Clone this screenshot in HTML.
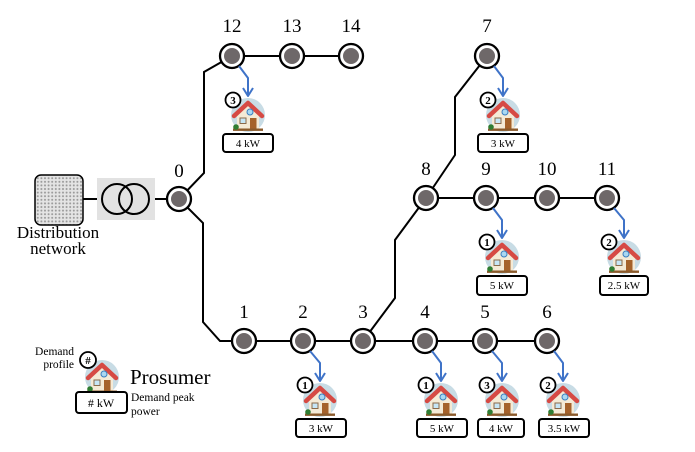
<!DOCTYPE html>
<html><head><meta charset="utf-8"><style>
html,body{margin:0;padding:0;background:#fff;}
svg{display:block;font-family:"Liberation Serif","DejaVu Serif",serif;}
</style></head><body>
<svg width="695" height="452" viewBox="0 0 695 452" xmlns="http://www.w3.org/2000/svg">
<defs>
<pattern id="dots" width="3.6" height="3.6" patternUnits="userSpaceOnUse">
<rect width="3.6" height="3.6" fill="#e4e4e4"/>
<circle cx="1.8" cy="1.8" r="1" fill="#9a9a9a"/>
</pattern>
<g id="house">
<circle cx="0" cy="0" r="17" fill="#c8dce5"/>
<polygon points="-11,-1 0,-11 11,-1 11,14 -11,14" fill="#f4ead6"/>
<polyline points="-14,1 0,-12 14,1" fill="none" stroke="#d64a44" stroke-width="4.5" stroke-linecap="round" stroke-linejoin="round"/>
<circle cx="2" cy="-3" r="3" fill="#a9d8f2" stroke="#3b7fc0" stroke-width="1"/>
<rect x="-8" y="3" width="6" height="5.5" fill="#c6e6f6" stroke="#8a6a4a" stroke-width="1"/>
<rect x="2" y="3" width="6.5" height="11" fill="#a5622b"/>
<rect x="-15" y="13.5" width="30" height="2.4" fill="#8a5a2b"/>
<circle cx="-12" cy="12" r="2.8" fill="#2f7d32"/>
</g>
<g id="node">
<circle cx="0" cy="0" r="12" fill="#fff" stroke="#000" stroke-width="2.3"/>
<circle cx="0" cy="0" r="8" fill="#6e6869"/>
</g>
</defs>

<!-- black network lines -->
<g fill="none" stroke="#000" stroke-width="2" stroke-linejoin="miter">
<line x1="83" y1="199" x2="179" y2="199"/>
<polyline points="179,199 204,173 204,72 232,56 351,56"/>
<polyline points="179,199 203,223 203,322 220,341 547,341"/>
<polyline points="363,341 395,298 395,240 426,198 607,198"/>
<polyline points="426,198 455,155 455,97 487,56"/>
</g>

<!-- distribution network -->
<rect x="35" y="175" width="48" height="50" rx="6" fill="url(#dots)" stroke="#000" stroke-width="1.5"/>
<text x="58" y="238" font-size="17" text-anchor="middle">Distribution</text>
<text x="58" y="254" font-size="17" text-anchor="middle">network</text>

<!-- transformer -->
<rect x="97" y="178" width="58" height="42" fill="#e2e2e2"/>
<circle cx="117" cy="199" r="15" fill="none" stroke="#000" stroke-width="2"/>
<circle cx="134" cy="199" r="15" fill="none" stroke="#000" stroke-width="2"/>

<!-- nodes -->
<use href="#node" x="179" y="199"/>
<use href="#node" x="232" y="56"/>
<use href="#node" x="292" y="56"/>
<use href="#node" x="351" y="56"/>
<use href="#node" x="487" y="56"/>
<use href="#node" x="426" y="198"/>
<use href="#node" x="486" y="198"/>
<use href="#node" x="547" y="198"/>
<use href="#node" x="607" y="198"/>
<use href="#node" x="244" y="341"/>
<use href="#node" x="303" y="341"/>
<use href="#node" x="363" y="341"/>
<use href="#node" x="425" y="341"/>
<use href="#node" x="485" y="341"/>
<use href="#node" x="547" y="341"/>

<!-- node labels -->
<g font-size="19" text-anchor="middle">
<text x="179" y="177">0</text>
<text x="232" y="32">12</text>
<text x="292" y="32">13</text>
<text x="351" y="32">14</text>
<text x="487" y="32">7</text>
<text x="426" y="175">8</text>
<text x="486" y="175">9</text>
<text x="547" y="175">10</text>
<text x="607" y="175">11</text>
<text x="244" y="318">1</text>
<text x="303" y="318">2</text>
<text x="363" y="318">3</text>
<text x="425" y="318">4</text>
<text x="485" y="318">5</text>
<text x="547" y="318">6</text>
</g>

<!-- blue arrows -->
<g fill="none" stroke="#3f73c8" stroke-width="2" stroke-linejoin="round">
<polyline points="239,66 248,78 248,96"/><polyline points="243,88 248,96 253,88"/>
<polyline points="494,66 503,78 503,96"/><polyline points="498,88 503,96 508,88"/>
<polyline points="493,208 502,220 502,238"/><polyline points="497,230 502,238 507,230"/>
<polyline points="614,208 624,220 624,238"/><polyline points="619,230 624,238 629,230"/>
<polyline points="310,351 320,363 320,381"/><polyline points="315,373 320,381 325,373"/>
<polyline points="432,351 441,363 441,381"/><polyline points="436,373 441,381 446,373"/>
<polyline points="492,351 502,363 502,381"/><polyline points="497,373 502,381 507,373"/>
<polyline points="554,351 563,363 563,381"/><polyline points="558,373 563,381 568,373"/>
</g>

<!-- houses -->
<use href="#house" x="248" y="115"/>
<use href="#house" x="503" y="115"/>
<use href="#house" x="502" y="257"/>
<use href="#house" x="624" y="257"/>
<use href="#house" x="320" y="400"/>
<use href="#house" x="441" y="400"/>
<use href="#house" x="502" y="400"/>
<use href="#house" x="563" y="400"/>
<use href="#house" x="102" y="377"/>

<!-- badges -->
<g fill="#fff" stroke="#000" stroke-width="1.8">
<circle cx="233" cy="100" r="7.5"/>
<circle cx="488" cy="100" r="7.5"/>
<circle cx="487" cy="242" r="7.5"/>
<circle cx="609" cy="242" r="7.5"/>
<circle cx="305" cy="385" r="7.5"/>
<circle cx="426" cy="385" r="7.5"/>
<circle cx="487" cy="385" r="7.5"/>
<circle cx="548" cy="385" r="7.5"/>
<circle cx="88" cy="360" r="8"/>
</g>
<g font-size="11" font-weight="bold" text-anchor="middle">
<text x="233" y="104">3</text>
<text x="488" y="104">2</text>
<text x="487" y="246">1</text>
<text x="609" y="246">2</text>
<text x="305" y="389">1</text>
<text x="426" y="389">1</text>
<text x="487" y="389">3</text>
<text x="548" y="389">2</text>
<text x="88" y="364">#</text>
</g>

<!-- power boxes -->
<g fill="#fff" stroke="#000" stroke-width="2">
<rect x="223" y="134" width="50" height="18" rx="3"/>
<rect x="478" y="134" width="50" height="18" rx="3"/>
<rect x="477" y="276" width="50" height="19" rx="3"/>
<rect x="600" y="276" width="48" height="19" rx="3"/>
<rect x="296" y="419" width="50" height="18" rx="3"/>
<rect x="417" y="419" width="50" height="18" rx="3"/>
<rect x="478" y="419" width="46" height="18" rx="3"/>
<rect x="539" y="419" width="50" height="18" rx="3"/>
<rect x="76" y="392" width="51" height="21" rx="3"/>
</g>
<g font-size="11" text-anchor="middle">
<text x="248" y="147">4 kW</text>
<text x="503" y="147">3 kW</text>
<text x="502" y="289">5 kW</text>
<text x="624" y="289">2.5 kW</text>
<text x="321" y="432">3 kW</text>
<text x="442" y="432">5 kW</text>
<text x="501" y="432">4 kW</text>
<text x="564" y="432">3.5 kW</text>
<text x="101" y="407" font-size="12">#  kW</text>
</g>

<!-- legend -->
<g font-size="11.5">
<text x="74" y="355" text-anchor="end">Demand</text>
<text x="74" y="368" text-anchor="end">profile</text>
<text x="131" y="401">Demand peak</text>
<text x="131" y="415">power</text>
</g>
<text x="130" y="384" font-size="21">Prosumer</text>
</svg>
</body></html>
